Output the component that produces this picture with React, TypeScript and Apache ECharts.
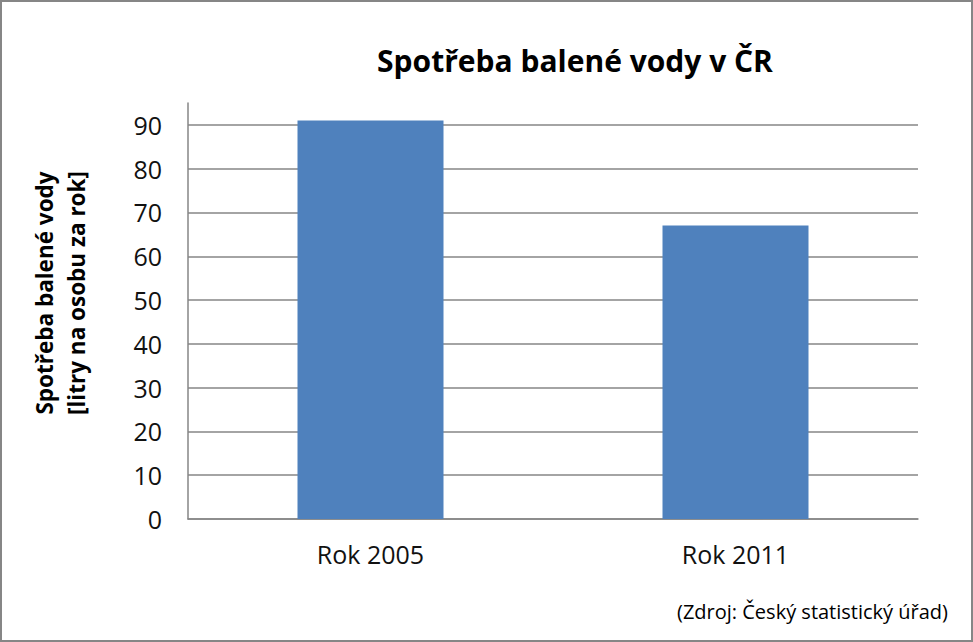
import React, { useEffect, useRef } from "react";
import * as echarts from "echarts";

const categories = ["Rok 2005", "Rok 2011"];
const values = [91, 67];
const titleText = "Spotřeba balené vody v ČR";
const yAxisTitle = "Spotřeba balené vody\n[litry na osobu za rok]";
const sourceText = "(Zdroj: Český statistický úřad)";

const FONT = "'Open Sans', 'DejaVu Sans', sans-serif";

export default function App() {
  const ref = useRef<HTMLDivElement>(null);
  useEffect(() => {
    if (!ref.current) return;
    const chart = echarts.init(ref.current, null, { renderer: "svg" });
    chart.setOption({
      animation: false,
      backgroundColor: "#ffffff",
      title: {
        text: titleText,
        left: 570,
        top: 40,
        textAlign: "center",
        textStyle: { fontFamily: FONT, fontWeight: "bold", fontSize: 30, color: "#000" },
      },
      grid: { left: 188, right: 55, top: 103, bottom: 123, containLabel: false },
      xAxis: {
        type: "category",
        data: categories,
        axisLine: { show: true, lineStyle: { color: "#868686", width: 1.5 } },
        axisTick: { show: false },
        axisLabel: { fontFamily: FONT, fontSize: 25, color: "#111", margin: 22 },
      },
      yAxis: {
        type: "value",
        min: 0,
        max: 95,
        interval: 10,
        axisLine: { show: true, lineStyle: { color: "#868686", width: 1.5 } },
        axisTick: { show: false },
        axisLabel: { fontFamily: FONT, fontSize: 25, color: "#111", margin: 26, showMaxLabel: false },
        splitLine: { show: true, showMaxLine: false, lineStyle: { color: "#868686", width: 1.5 } },
      },
      series: [
        {
          type: "bar",
          data: values,
          barCategoryGap: "60%",
          itemStyle: { color: "#4F81BD" },
        },
      ],
      graphic: [
        {
          type: "rect",
          shape: { x: 1, y: 1, width: 971, height: 640 },
          style: { fill: "none", stroke: "#868686", lineWidth: 2 },
          silent: true,
        },
        {
          type: "text",
          x: 60,
          y: 293,
          rotation: Math.PI / 2,
          style: {
            text: yAxisTitle,
            fontFamily: FONT,
            fontWeight: "bold",
            fontSize: 22.5,
            lineHeight: 32,
            fill: "#000",
            align: "center",
            verticalAlign: "middle",
          },
        },
        {
          type: "text",
          right: 25,
          top: 601,
          style: {
            text: sourceText,
            fontFamily: FONT,
            fontSize: 20,
            fill: "#000",
          },
        },
      ],
    });
    return () => chart.dispose();
  }, []);
  return (
    <div
      ref={ref}
      style={{ position: "fixed", left: 0, top: 0, width: 973, height: 642 }}
    />
  );
}
